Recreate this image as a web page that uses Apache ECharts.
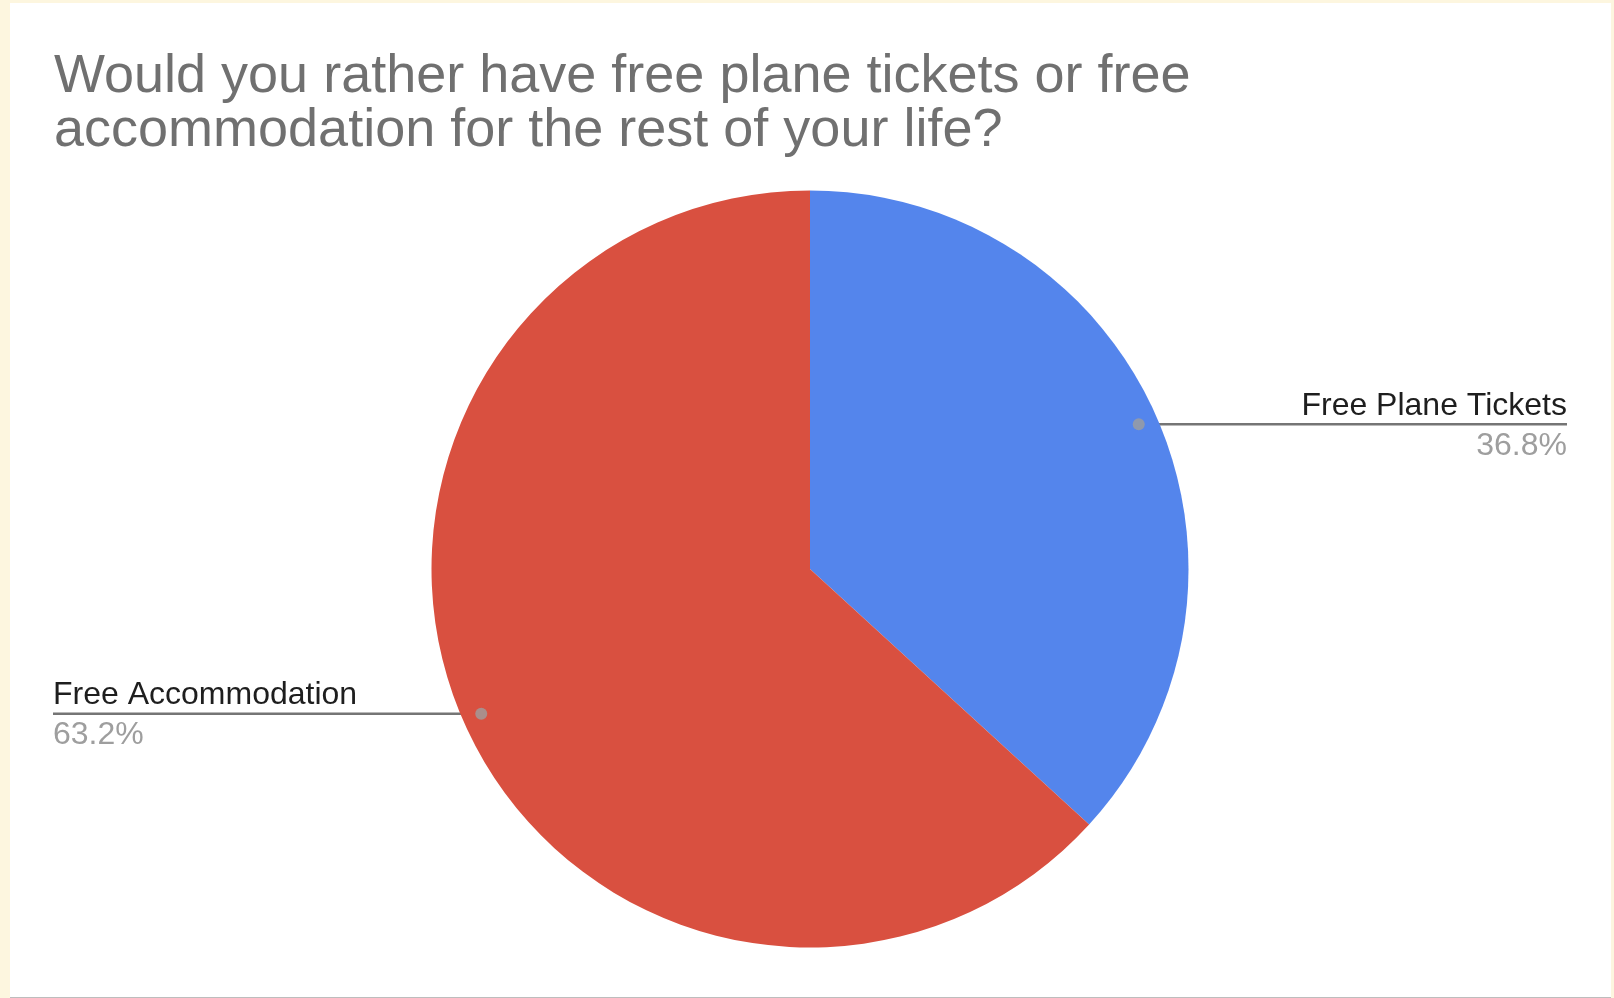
<!DOCTYPE html>
<html>
<head>
<meta charset="utf-8">
<script src="https://cdn.jsdelivr.net/npm/echarts@6/dist/echarts.min.js"></script>
<style>
  html, body { margin: 0; padding: 0; width: 1614px; height: 998px; background: #fdf6df; overflow: hidden; }
  #card { position: absolute; left: 10px; top: 3px; width: 1601px; height: 994px; background: #ffffff; border-bottom: 1px solid #bdbdbd; }
  #chart { position: absolute; left: 0; top: 0; width: 1601px; height: 994px; }
</style>
</head>
<body>
<div id="card"><div id="chart"></div></div>
<script>
// ---- data ----
const titleText = 'Would you rather have free plane tickets or free\naccommodation for the rest of your life?';
const categories = ['Free Plane Tickets', 'Free Accommodation'];
const shares = [36.8, 63.2];
const colors = ['#5485ec', '#d95040'];

// ---- layout constants (chart coords) ----
const CX = 800, CY = 566, R = 378.5, DOT_R = 0.949;
const RIGHT_EDGE = 1557, LEFT_EDGE = 43;
const FONT = 'Liberation Sans, Arial, sans-serif';

const total = shares.reduce((a, b) => a + b, 0);
const mids = [];
let acc = 0;
shares.forEach(v => { mids.push((acc + v / 2) / total * 100); acc += v; });

function dotPos(i) {
  const ang = mids[i] / 100 * 2 * Math.PI; // clockwise from 12 o'clock
  return [CX + Math.sin(ang) * R * DOT_R, CY - Math.cos(ang) * R * DOT_R];
}

const chart = echarts.init(document.getElementById('chart'), null, { renderer: 'canvas' });

const option = {
  animation: false,
  backgroundColor: 'transparent',
  title: {
    text: titleText,
    left: 44,
    top: 47,
    padding: 0,
    textStyle: {
      fontFamily: FONT,
      fontSize: 54,
      fontWeight: 'normal',
      color: '#707070',
      lineHeight: 54
    }
  },
  polar: { center: [CX, CY], radius: R },
  angleAxis: { type: 'value', min: 0, max: 100, startAngle: 90, clockwise: true, show: false },
  radiusAxis: { type: 'value', min: 0, max: 1, show: false },
  series: [
    {
      type: 'pie',
      center: [CX, CY],
      radius: R,
      startAngle: 90,
      clockwise: true,
      percentPrecision: 1,
      silent: true,
      emphasis: { disabled: true },
      itemStyle: { borderWidth: 0 },
      data: categories.map((c, i) => ({ name: c, value: shares[i], itemStyle: { color: colors[i] } })),
      label: {
        show: true,
        position: 'outside',
        formatter: '{n|{b}}\n{p|{d}%}',
        fontFamily: FONT,
        rich: {
          n: { fontSize: 32, color: '#1e1e1e', lineHeight: 40, fontFamily: FONT },
          p: { fontSize: 32, color: '#9e9e9e', lineHeight: 40, fontFamily: FONT }
        }
      },
      labelLine: {
        show: true,
        length: 10,
        length2: 10,
        lineStyle: { color: '#757575', width: 2.6 }
      },
      labelLayout: function (params) {
        const i = params.dataIndex;
        const p = dotPos(i);
        const right = p[0] > CX;
        const edge = right ? RIGHT_EDGE : LEFT_EDGE;
        return {
          x: edge,
          y: p[1] + 1.5,
          align: right ? 'right' : 'left',
          verticalAlign: 'middle',
          labelLinePoints: [[p[0], p[1]], [p[0], p[1]], [edge, p[1]]]
        };
      }
    },
    {
      type: 'scatter',
      coordinateSystem: 'polar',
      silent: true,
      symbol: 'circle',
      symbolSize: 12,
      itemStyle: { color: '#9e9e9e' },
      z: 5,
      data: mids.map(m => [DOT_R, m])
    }
  ]
};
chart.setOption(option);
</script>
</body>
</html>
